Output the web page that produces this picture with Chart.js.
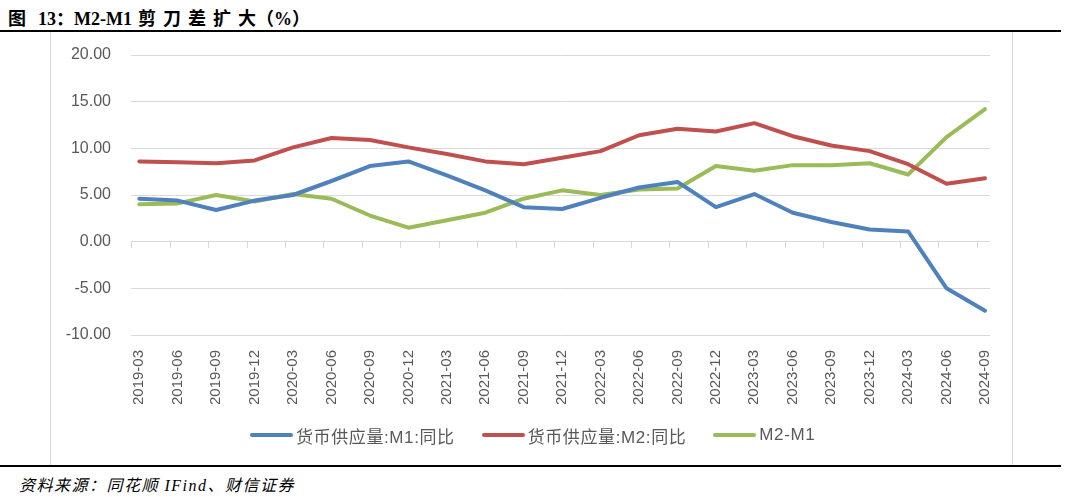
<!DOCTYPE html>
<html>
<head>
<meta charset="utf-8">
<script src="https://cdn.jsdelivr.net/npm/chart.js@4.4.1/dist/chart.umd.min.js"></script>
<style>
  body { margin: 0; background: #fff; width: 1067px; height: 497px; position: relative; overflow: hidden; }
  .title { position: absolute; left: 8px; top: 4px; font: bold 18px "Liberation Serif", "Noto Sans CJK SC"; color: #000; white-space: nowrap; }
  .title .num { margin-left: 12px; }
  .title .cn { letter-spacing: 7px; margin-left: 6px; }
  .rule { position: absolute; left: 0; width: 1061px; height: 2px; background: #000; }
  .frame { position: absolute; left: 50px; top: 32px; width: 961px; height: 433px; border-left: 1px solid #d9d9d9; border-right: 1px solid #d9d9d9; }
  .wrap { position: absolute; left: 51px; top: 33px; width: 960px; height: 431px; }
  .legend { position: absolute; left: 250px; top: 423px; height: 24px; display: flex; align-items: center; font: 17px "Liberation Sans", "Noto Sans CJK SC"; letter-spacing: 0.6px; color: #595959; white-space: nowrap; }
  .legend .item { display: flex; align-items: center; margin-right: 27px; }
  .legend .swatch { width: 43px; height: 4px; border-radius: 2px; margin-right: 3px; }
  .src { position: absolute; left: 19px; top: 472px; font: italic 16px "Liberation Serif", "Noto Sans CJK SC"; letter-spacing: 1.5px; color: #000; white-space: nowrap; }
</style>
</head>
<body>
<div class="title">图<span class="num">13：</span>M2-M1<span class="cn">剪刀差扩</span>大（%）</div>
<div class="rule" style="top:30px"></div>
<div class="frame"></div>
<div class="wrap"><canvas id="c"></canvas></div>
<div class="legend" id="legend"></div>
<div class="rule" style="top:465px"></div>
<div class="src">资料来源：同花顺 IFind、财信证券</div>
<script>
// quarter labels
const months = ['2019-03','2019-06','2019-09','2019-12','2020-03','2020-06','2020-09','2020-12',
  '2021-03','2021-06','2021-09','2021-12','2022-03','2022-06','2022-09','2022-12',
  '2023-03','2023-06','2023-09','2023-12','2024-03','2024-06','2024-09'];
// M1 yoy, M2 yoy, M2-M1 (%)
const m1 = [4.6,4.4,3.4,4.4,5.0,6.5,8.1,8.6,7.1,5.5,3.7,3.5,4.7,5.8,6.4,3.7,5.1,3.1,2.1,1.3,1.1,-5.0,-7.4];
const m2 = [8.6,8.5,8.4,8.7,10.1,11.1,10.9,10.1,9.4,8.6,8.3,9.0,9.7,11.4,12.1,11.8,12.7,11.3,10.3,9.7,8.3,6.2,6.8];
const gap = [4.0,4.1,5.0,4.3,5.1,4.6,2.8,1.5,2.3,3.1,4.6,5.5,5.0,5.6,5.7,8.1,7.6,8.2,8.2,8.4,7.2,11.2,14.2];
const yTicks = [-10, -5, 0, 5, 10, 15, 20];

const toXY = arr => arr.map((v, i) => ({ x: i, y: v }));

const line = (label, data, color) => ({
  label, data: toXY(data),
  borderColor: color, backgroundColor: color,
  borderWidth: 4, pointRadius: 0, tension: 0,
  borderCapStyle: 'round', borderJoinStyle: 'round'
});

// small tick marks hanging off the zero line
const tickMarks = {
  id: 'tickMarks',
  beforeDatasetsDraw(chart) {
    const { ctx, scales: { x, y } } = chart;
    const y0 = Math.round(y.getPixelForValue(0));
    ctx.save();
    ctx.strokeStyle = '#d9d9d9';
    ctx.lineWidth = 1;
    months.forEach((m, i) => {
      const px = Math.round(x.getPixelForValue(i - 0.21)) + 0.5;
      ctx.beginPath();
      ctx.moveTo(px, y0);
      ctx.lineTo(px, y0 + 6);
      ctx.stroke();
    });
    ctx.restore();
  }
};

const chart = new Chart(document.getElementById('c'), {
  type: 'line',
  data: {
    datasets: [
      line('货币供应量:M1:同比', m1, '#4f81bd'),
      line('货币供应量:M2:同比', m2, '#c0504d'),
      line('M2-M1', gap, '#9bbb59')
    ]
  },
  options: {
    responsive: true,
    maintainAspectRatio: false,
    animation: false,
    layout: { padding: { top: 22, right: 21, bottom: 60, left: 0 } },
    scales: {
      x: {
        type: 'linear',
        min: -0.216, max: 22.13,
        afterBuildTicks: s => { s.ticks = months.map((m, i) => ({ value: i })); },
        afterFit: s => { s.height = 69; s.paddingLeft = 0; s.paddingRight = 0; },
        grid: { display: false },
        border: { display: false },
        ticks: {
          autoSkip: false, minRotation: 90, maxRotation: 90, padding: 7,
          color: '#595959', font: { family: 'Liberation Sans', size: 15 },
          callback: v => months[v]
        }
      },
      y: {
        min: -10, max: 20,
        afterBuildTicks: s => { s.ticks = yTicks.map(v => ({ value: v })); },
        afterFit: s => { s.width = 80; s.paddingTop = 0; s.paddingBottom = 0; },
        grid: { color: '#d9d9d9', drawTicks: false },
        border: { display: false },
        ticks: {
          padding: 20, color: '#595959',
          font: { family: 'Liberation Sans', size: 16 },
          callback: v => v.toFixed(2)
        }
      }
    },
    plugins: {
      legend: { display: false },
      tooltip: { enabled: false }
    }
  },
  plugins: [tickMarks]
});

// legend built from the chart's own datasets
const legendEl = document.getElementById('legend');
chart.data.datasets.forEach(ds => {
  const item = document.createElement('div');
  item.className = 'item';
  const sw = document.createElement('span');
  sw.className = 'swatch';
  sw.style.background = ds.borderColor;
  const txt = document.createElement('span');
  txt.textContent = ds.label;
  item.append(sw, txt);
  legendEl.append(item);
});
</script>
</body>
</html>
